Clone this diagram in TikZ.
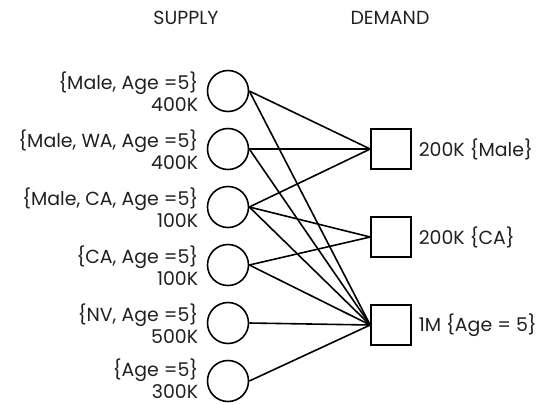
\documentclass[tikz,border=0pt]{standalone}
\usepackage{fontspec}
\setmainfont{Poppins}
\usepackage{tikz}
\usetikzlibrary{positioning}

\definecolor{ink}{HTML}{231F20}

\begin{document}
\begin{tikzpicture}[x=1bp,y=-1bp,line width=1.6bp,
	supply/.style={draw,circle,minimum size=41bp,inner sep=0pt},
	demand/.style={draw,rectangle,minimum size=40bp,inner sep=0pt},
	lbl/.style={text=ink,font=\fontsize{19}{22}\selectfont,inner sep=0pt}]
	\useasboundingbox (0,0) rectangle (543,403);
	% headers
	\node[lbl] (hsup) at (186,18) {SUPPLY};
	\node[lbl] (hdem) at (390,18) {DEMAND};
	% supply side
	\node[supply] (c1) at (228,91) {};
	\node[supply] (c2) at (228,149) {};
	\node[supply] (c3) at (228,207) {};
	\node[supply] (c4) at (228,265) {};
	\node[supply] (c5) at (228,323) {};
	\node[supply] (c6) at (228,381) {};
	\node[lbl,align=right,anchor=east] (l1) at (199,92) {\{Male, Age =5\}\\400K};
	\node[lbl,align=right,anchor=east] (l2) at (199,150) {\{Male, WA, Age =5\}\\400K};
	\node[lbl,align=right,anchor=east] (l3) at (199,208) {\{Male, CA, Age =5\}\\100K};
	\node[lbl,align=right,anchor=east] (l4) at (199,266) {\{CA, Age =5\}\\100K};
	\node[lbl,align=right,anchor=east] (l5) at (199,324) {\{NV, Age =5\}\\500K};
	\node[lbl,align=right,anchor=east] (l6) at (199,379) {\{Age =5\}\\300K};
	% demand side
	\node[demand] (d1) at (391,149) {};
	\node[demand] (d2) at (391,237) {};
	\node[demand] (d3) at (391,325) {};
	\node[lbl,anchor=west] (m1) at (418,149) {200K \{Male\}};
	\node[lbl,anchor=west] (m2) at (418,237) {200K \{CA\}};
	\node[lbl,anchor=west] (m3) at (418,325) {1M \{Age = 5\}};
	% edges
	\draw (c1.east) -- (d1.west);
	\draw (c1.east) -- (d3.west);
	\draw (c2.east) -- (d1.west);
	\draw (c2.east) -- (d3.west);
	\draw (c3.east) -- (d1.west);
	\draw (c3.east) -- (d2.west);
	\draw (c3.east) -- (d3.west);
	\draw (c4.east) -- (d2.west);
	\draw (c4.east) -- (d3.west);
	\draw (c5.east) -- (d3.west);
	\draw (c6.east) -- (d3.west);
\end{tikzpicture}
\end{document}
